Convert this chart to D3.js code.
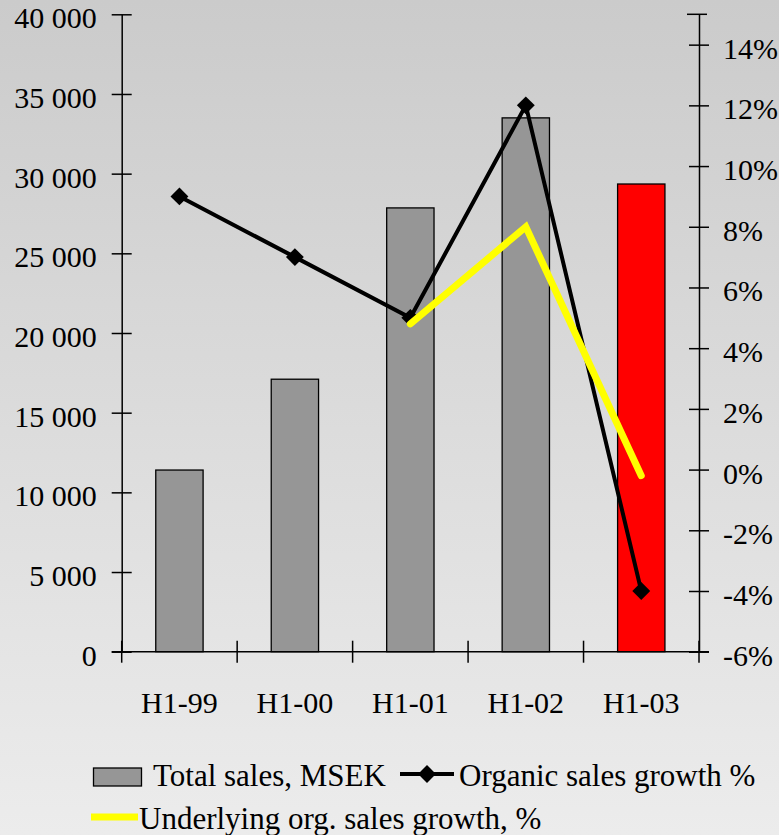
<!DOCTYPE html>
<html>
<head>
<meta charset="utf-8">
<script src="https://cdn.jsdelivr.net/npm/d3@7/dist/d3.min.js"></script>
<style>
  html, body { margin: 0; padding: 0; background: #e0e0e0; }
  svg { display: block; }
  text { font-family: "Liberation Serif", "Times New Roman", serif; fill: #000; }
</style>
</head>
<body>
<svg id="chart" width="779" height="835"></svg>
<script>
// Half-year periods
const categories = ["H1-99", "H1-00", "H1-01", "H1-02", "H1-03"];
// Total sales, MSEK (left axis)
const totalSales = [11400, 17100, 27850, 33500, 29350];
// Organic sales growth, % (right axis)
const organicGrowth = [9, 7, 5, 12, -4];
// Underlying organic sales growth, % (right axis, reported from H1-01)
const underlyingGrowth = [null, null, 4.8, 8, -0.2];
// Axis ticks
const leftTicks = [0, 5000, 10000, 15000, 20000, 25000, 30000, 35000, 40000];
const rightTicks = [-6, -4, -2, 0, 2, 4, 6, 8, 10, 12, 14];
// Legend entries
const legendLabels = ["Total sales, MSEK", "Organic sales growth %", "Underlying org. sales growth, %"];

const W = 779, H = 835;
const plot = { left: 121.7, right: 699, top: 14.3, bottom: 651.7 };
const svg = d3.select("#chart");
const serif = "'Liberation Serif', 'Times New Roman', serif";

// Background: grey vertical gradient, darker at the top
const defs = svg.append("defs");
const grad = defs.append("linearGradient").attr("id", "bg")
  .attr("x1", 0).attr("y1", 0).attr("x2", 0).attr("y2", 1);
grad.append("stop").attr("offset", "0%").attr("stop-color", "#cbcbcb");
grad.append("stop").attr("offset", "100%").attr("stop-color", "#ececec");
svg.append("rect").attr("width", W).attr("height", H).attr("fill", "url(#bg)");

// Scales
const x = d3.scaleBand().domain(categories).range([plot.left, plot.right]).padding(0);
const yL = d3.scaleLinear().domain([0, 40000]).range([plot.bottom, plot.top]);
const yR = d3.scaleLinear().domain([-6, 15]).range([plot.bottom, plot.top]);
const cx = c => x(c) + x.bandwidth() / 2;

const locale = d3.formatLocale({ decimal: ",", thousands: "\u00a0", grouping: [3], currency: ["", ""] });
const fmtThousands = locale.format(",.0f");

// Bars
const barW = x.bandwidth() * 0.41;
svg.append("g").selectAll("rect").data(categories).join("rect")
  .attr("x", c => cx(c) - barW / 2)
  .attr("y", (c, i) => yL(totalSales[i]))
  .attr("width", barW)
  .attr("height", (c, i) => yL(0) - yL(totalSales[i]))
  .attr("fill", (c, i) => i === categories.length - 1 ? "#ff0000" : "#969696")
  .attr("stroke", "#000").attr("stroke-width", 1.3);

// Left axis
const leftAxis = svg.append("g").attr("transform", `translate(${plot.left},0)`)
  .call(d3.axisLeft(yL).tickValues(leftTicks).tickFormat(fmtThousands).tickSizeOuter(0).tickSizeInner(10).tickPadding(14));
leftAxis.attr("font-family", serif);
leftAxis.select(".domain").attr("stroke", "#000").attr("stroke-width", 1.5);
leftAxis.selectAll(".tick line").attr("x1", -10).attr("x2", 10).attr("stroke", "#000").attr("stroke-width", 1.5);
leftAxis.selectAll(".tick text").attr("font-size", 30).attr("dy", "0.45em")
  .attr("font-family", serif).attr("x", -25);

// Right axis
const rightAxis = svg.append("g").attr("transform", `translate(${plot.right},0)`)
  .call(d3.axisRight(yR).tickValues(rightTicks).tickFormat(d => d + "%").tickSizeOuter(0).tickSizeInner(10).tickPadding(14));
rightAxis.attr("font-family", serif);
rightAxis.select(".domain").attr("stroke", "#000").attr("stroke-width", 1.5);
rightAxis.selectAll(".tick line").attr("x1", -10).attr("x2", 10).attr("stroke", "#000").attr("stroke-width", 1.5);
rightAxis.selectAll(".tick text").attr("font-size", 30).attr("dy", "0.45em")
  .attr("font-family", serif).attr("x", 24);
rightAxis.append("line").attr("x1", -12).attr("x2", 8)
  .attr("y1", yR(15)).attr("y2", yR(15)).attr("stroke", "#000").attr("stroke-width", 1.5);

// Category axis with tick marks on band boundaries
const xg = svg.append("g");
xg.append("line").attr("x1", plot.left - 10).attr("x2", plot.right + 10)
  .attr("y1", plot.bottom).attr("y2", plot.bottom).attr("stroke", "#000").attr("stroke-width", 1.5);
const bounds = categories.map(c => x(c)).concat([x(categories[categories.length - 1]) + x.bandwidth()]);
xg.selectAll("line.b").data(bounds).join("line").attr("class", "b")
  .attr("x1", d => d).attr("x2", d => d)
  .attr("y1", plot.bottom - 11).attr("y2", plot.bottom + 11)
  .attr("stroke", "#000").attr("stroke-width", 1.5);
xg.selectAll("text").data(categories).join("text")
  .attr("x", cx).attr("y", 713).attr("text-anchor", "middle").attr("font-size", 30).text(d => d);

// Organic sales growth line with diamond markers
const line = d3.line().defined(d => d.v != null).x(d => cx(d.c)).y(d => yR(d.v));
const orgData = categories.map((c, i) => ({ c, v: organicGrowth[i] }));
svg.append("path").datum(orgData).attr("d", line)
  .attr("fill", "none").attr("stroke", "#000").attr("stroke-width", 4).attr("stroke-linejoin", "miter");
const diamond = d3.symbol().type(d3.symbolSquare).size(160);
svg.append("g").selectAll("path").data(orgData).join("path")
  .attr("d", diamond)
  .attr("transform", d => `translate(${cx(d.c)},${yR(d.v)}) rotate(45)`)
  .attr("fill", "#000");

// Underlying organic growth line
const undData = categories.map((c, i) => ({ c, v: underlyingGrowth[i] })).filter(d => d.v != null);
svg.append("path").datum(undData).attr("d", line)
  .attr("fill", "none").attr("stroke", "#ffff00").attr("stroke-width", 7)
  .attr("stroke-linecap", "round").attr("stroke-linejoin", "miter");

// Legend
const lg = svg.append("g").attr("font-size", 31);
lg.append("rect").attr("x", 93.5).attr("y", 768).attr("width", 48).attr("height", 18)
  .attr("fill", "#969696").attr("stroke", "#000").attr("stroke-width", 1.3);
lg.append("text").attr("x", 153).attr("y", 786).text(legendLabels[0]);
lg.append("line").attr("x1", 400).attr("x2", 454).attr("y1", 774).attr("y2", 774)
  .attr("stroke", "#000").attr("stroke-width", 4);
lg.append("path").attr("d", diamond).attr("transform", "translate(427,774) rotate(45)").attr("fill", "#000");
lg.append("text").attr("x", 459).attr("y", 786).text(legendLabels[1]);
lg.append("line").attr("x1", 91).attr("x2", 138).attr("y1", 817).attr("y2", 817)
  .attr("stroke", "#ffff00").attr("stroke-width", 7);
lg.append("text").attr("x", 139).attr("y", 829).text(legendLabels[2]);
</script>
</body>
</html>
